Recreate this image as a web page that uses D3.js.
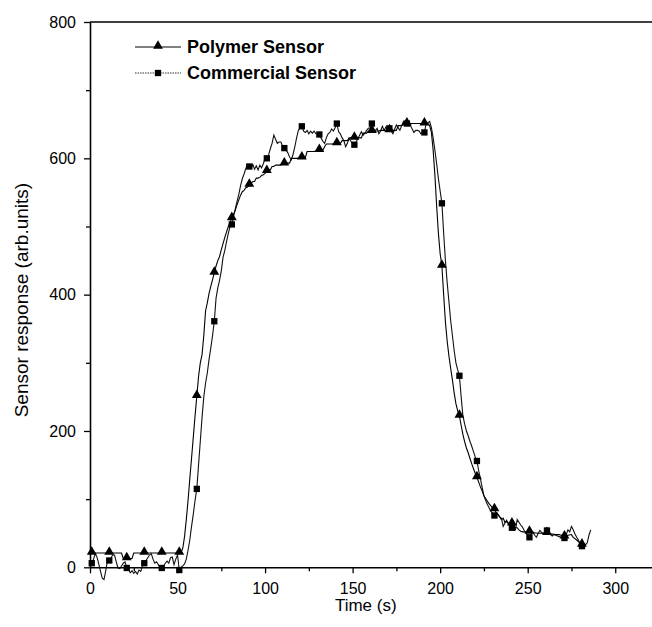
<!DOCTYPE html>
<html>
<head>
<meta charset="utf-8">
<script src="https://cdn.jsdelivr.net/npm/d3@7"></script>
<style>
  html, body { margin: 0; padding: 0; background: #fff; }
  svg { display: block; font-family: "Liberation Sans", Arial, sans-serif; }
</style>
</head>
<body>
<svg id="chart" width="652" height="627"></svg>
<script>
// Sensor responses, [time (s), response (arb.units)]
const polymerSensor = [
  [0,21],[1,21],[11,21],[18,21],[19,13],[21,13],[24,13],[25,21],[31,21],[41,21],[51,21],
  [52,22],[53,28],[54,45],[55,70],[56,98],[57,130],[58,160],[59,191],[60,222],[61,251],
  [62,280],[63,300],[64,312],[65,340],[66,376],[67,388],[68,402],[69,412],[70,422],[71,432],
  [72,442],[73,450],[74,456],[75,466],[76,475],[77,484],[78,492],[79,500],[80,506],[81,512],
  [82,518],[83,524],[84,532],[85,539],[86,546],[87,551],[88,553],[89,557],[90,558],[91,561],
  [92,563],[93,566],[94,566],[95,571],[96,571],[97,572],[98,575],[99,576],[100,578],[101,581],
  [102,583],[103,583],[104,588],[105,588],[106,590],[108,590],[110,591],[111,592],[112,593],
  [114,593],[115,600],[118,600],[121,601],[123,601],[124,610],[128,610],[131,612],[133,612],
  [134,617],[135,621],[138,621],[141,622],[143,622],[144,626],[147,626],[148,630],[151,630],
  [155,630],[156,637],[158,637],[159,640],[161,640],[165,640],[166,641],[171,641],[175,641],
  [176,648],[178,648],[179,651],[181,651],[191,651],[193,651],[194,648],[195,638],[196,612],
  [197,575],[198,530],[199,490],[200,460],[201,442],[202,400],[203,360],[204,332],[205,310],
  [206,292],[207,275],[208,256],[209,240],[210,230],[211,222],[212,208],[213,195],[214,184],
  [215,175],[216,168],[217,160],[218,152],[219,145],[220,138],[221,132],[222,125],[223,118],
  [224,112],[225,105],[226,101],[227,97],[228,93],[229,90],[230,87],[231,85],[232,80],[233,78],
  [234,74],[235,70],[236,72],[237,66],[238,67],[239,65],[240,63],[241,64],[242,60],[243,58],
  [244,58],[245,55],[246,53],[247,52],[249,52],[251,52],[252,51],[256,50],[261,50],[266,48],
  [268,48],[271,45],[273,47],[275,48],[276,44],[278,40],[280,35],[281,33],[282,32]
];

const commercialSensor = [
  [0,8],[1,6],[2,12],[3,20],[4,15],[5,5],[6,-6],[7,-16],[8,-18],[9,-5],[10,10],[11,10],
  [12,14],[13,18],[14,18],[15,8],[16,-1],[17,-2],[18,2],[19,6],[20,8],[21,-1],[22,-3],[23,-8],
  [24,-5],[25,-9],[26,-6],[27,-10],[28,-4],[29,-6],[30,2],[31,6],[32,10],[33,14],[34,18],
  [35,20],[36,12],[37,6],[38,8],[39,4],[40,0],[41,-1],[42,2],[43,6],[44,9],[45,6],[46,14],
  [47,15],[48,4],[49,12],[50,18],[51,-4],[52,0],[53,2],[54,5],[55,12],[56,25],[57,40],[58,60],
  [59,78],[60,98],[61,115],[62,150],[63,185],[64,220],[65,250],[66,270],[67,285],[68,305],
  [69,322],[70,340],[71,361],[72,395],[73,410],[74,421],[75,435],[76,455],[77,465],[78,478],
  [79,490],[80,500],[81,503],[82,515],[83,526],[84,537],[85,547],[86,560],[87,570],[88,577],
  [89,585],[90,591],[91,588],[92,585],[93,591],[94,584],[95,589],[96,583],[97,590],[98,586],
  [99,592],[100,600],[101,600],[102,605],[103,614],[104,622],[105,634],[106,628],[107,622],
  [108,624],[109,624],[110,618],[111,615],[112,612],[113,608],[114,602],[115,598],[116,606],
  [117,617],[118,630],[119,641],[120,645],[121,647],[122,640],[123,638],[124,641],[125,636],
  [126,640],[127,637],[128,640],[129,636],[130,636],[131,635],[132,630],[133,625],[134,622],
  [135,630],[136,636],[137,638],[138,643],[139,640],[140,645],[141,651],[142,639],[143,636],
  [144,630],[145,626],[146,617],[147,622],[148,629],[149,625],[150,622],[151,620],[152,624],
  [153,629],[154,634],[155,639],[156,634],[157,637],[158,641],[159,644],[160,645],[161,651],
  [162,639],[163,641],[164,644],[165,636],[166,640],[167,647],[168,641],[169,646],[170,640],
  [171,644],[172,640],[173,636],[174,643],[175,649],[176,645],[177,641],[178,648],[179,654],
  [180,649],[181,651],[182,650],[183,648],[184,643],[185,638],[186,641],[187,641],[188,640],
  [189,636],[190,637],[191,638],[192,651],[193,652],[194,654],[195,645],[196,630],[197,612],
  [198,592],[199,570],[200,552],[201,534],[202,490],[203,450],[204,418],[205,390],[206,362],
  [207,340],[208,318],[209,300],[210,290],[211,281],[212,250],[213,222],[214,210],[215,200],
  [216,193],[217,185],[218,178],[219,170],[220,162],[221,156],[222,142],[223,130],[224,117],
  [225,105],[226,98],[227,92],[228,87],[229,82],[230,79],[231,76],[232,80],[233,77],[234,74],
  [235,72],[236,60],[237,65],[238,69],[239,63],[240,60],[241,58],[242,57],[243,55],[244,70],
  [245,66],[246,62],[247,59],[248,54],[249,50],[250,47],[251,44],[252,49],[253,52],[254,47],
  [255,44],[256,50],[257,54],[258,51],[259,49],[260,52],[261,54],[262,51],[263,48],[264,46],
  [265,48],[266,47],[267,46],[268,45],[269,44],[270,44],[271,43],[272,48],[273,55],[274,52],
  [275,60],[276,55],[277,49],[278,44],[279,40],[280,34],[281,31],[282,30],[283,33],[284,36],
  [285,47],[286,55]
];

const xMajorTicks = [0, 50, 100, 150, 200, 250, 300];
const xMinorTicks = [25, 75, 125, 175, 225, 275];
const yMajorTicks = [0, 200, 400, 600, 800];
const yMinorTicks = [100, 300, 500, 700];

const seriesNames = ["Polymer Sensor", "Commercial Sensor"];
const xTitle = "Time (s)";
const yTitle = "Sensor response (arb.units)";

// Markers sit on every tenth sample, starting at t = 1 s
const isMarker = d => d[0] % 10 === 1;

const svg = d3.select("#chart");
const plotLeft = 90, plotTop = 22, plotBottom = 567.3, plotRight = 652;

const x = d3.scaleLinear().domain([0, 321]).range([plotLeft, plotRight]);
const y = d3.scaleLinear().domain([0, 800]).range([plotBottom, plotTop]);

// Axes
svg.append("g").attr("transform", `translate(0,${plotBottom})`)
  .call(d3.axisBottom(x).tickValues(xMajorTicks).tickSize(6).tickSizeOuter(0).tickPadding(9));
svg.append("g").attr("transform", `translate(0,${plotBottom})`)
  .call(d3.axisBottom(x).tickValues(xMinorTicks).tickSize(4).tickFormat("").tickSizeOuter(0))
  .call(g => g.select(".domain").remove());

svg.append("g").attr("transform", `translate(${plotLeft},0)`)
  .call(d3.axisLeft(y).tickValues(yMajorTicks).tickSize(6).tickSizeOuter(0).tickPadding(8));
svg.append("g").attr("transform", `translate(${plotLeft},0)`)
  .call(d3.axisLeft(y).tickValues(yMinorTicks).tickSize(4).tickFormat("").tickSizeOuter(0))
  .call(g => g.select(".domain").remove());

svg.selectAll(".domain").attr("stroke", "#000").attr("stroke-width", 1.6);
svg.selectAll(".tick line").attr("stroke", "#000").attr("stroke-width", 1.3);
svg.selectAll(".tick text").attr("fill", "#000")
  .style("font-family", "'Liberation Sans', Arial, sans-serif").style("font-size", "16px");

// Top frame line
svg.append("line")
  .attr("x1", plotLeft).attr("x2", plotRight).attr("y1", plotTop).attr("y2", plotTop)
  .attr("stroke", "#000").attr("stroke-width", 1.6);

// Axis titles
svg.append("text")
  .attr("x", x(157.5)).attr("y", 611)
  .attr("text-anchor", "middle").style("font-size", "17px").text(xTitle);
svg.append("text")
  .attr("transform", `translate(28,${y(392)}) rotate(-90)`)
  .attr("text-anchor", "middle").style("font-size", "19px").text(yTitle);

// Series lines
const line = d3.line().x(d => x(d[0])).y(d => y(d[1]));
const plot = svg.append("g");

plot.append("path").datum(commercialSensor)
  .attr("fill", "none").attr("stroke", "#111").attr("stroke-width", 1.1).attr("d", line);
plot.append("path").datum(polymerSensor)
  .attr("fill", "none").attr("stroke", "#000").attr("stroke-width", 1.1).attr("d", line);

const tri = d3.symbol().type(d3.symbolTriangle).size(42);
const sq = d3.symbol().type(d3.symbolSquare).size(40);

plot.selectAll("path.tri").data(polymerSensor.filter(isMarker)).join("path")
  .attr("class", "tri").attr("d", tri)
  .attr("transform", d => `translate(${x(d[0])},${y(d[1]) - 1})`).attr("fill", "#000");
plot.selectAll("path.sq").data(commercialSensor.filter(isMarker)).join("path")
  .attr("class", "sq").attr("d", sq)
  .attr("transform", d => `translate(${x(d[0])},${y(d[1])})`).attr("fill", "#000");

// Legend
const legend = svg.append("g");
const rows = [
  { name: seriesNames[0], sym: tri, dash: null, yPos: 47 },
  { name: seriesNames[1], sym: sq, dash: "1.5,1", yPos: 73 }
];
rows.forEach(r => {
  legend.append("line").attr("x1", 135).attr("x2", 181).attr("y1", r.yPos).attr("y2", r.yPos)
    .attr("stroke", r.dash ? "#333" : "#000").attr("stroke-width", 1)
    .attr("stroke-dasharray", r.dash);
  legend.append("path").attr("d", r.sym)
    .attr("transform", `translate(158,${r.yPos - (r.sym === tri ? 1 : 0)})`).attr("fill", "#000");
  legend.append("text").attr("x", 187).attr("y", r.yPos + 6)
    .style("font-size", "18px").style("font-weight", "bold").text(r.name);
});
</script>
</body>
</html>
